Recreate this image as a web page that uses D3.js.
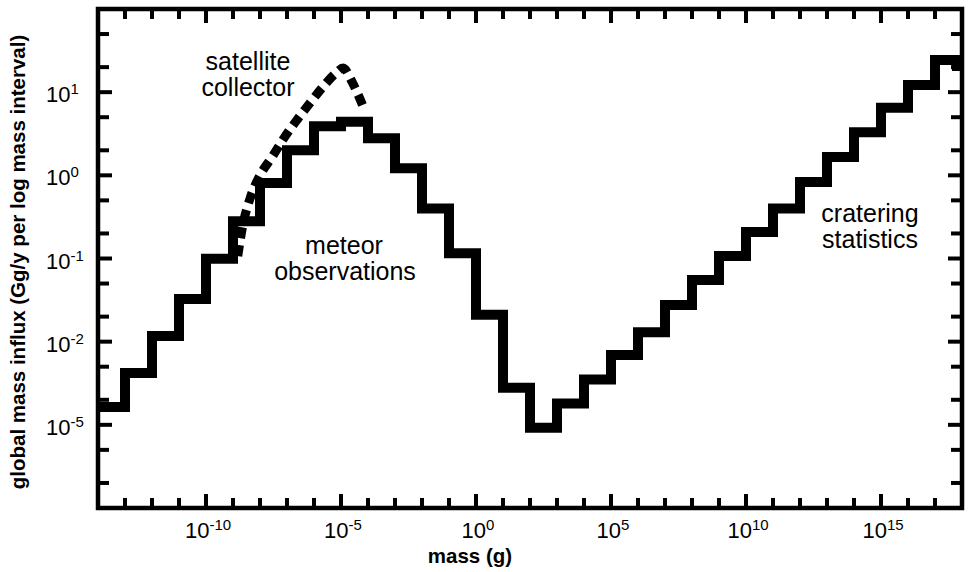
<!DOCTYPE html>
<html>
<head>
<meta charset="utf-8">
<script src="https://cdn.jsdelivr.net/npm/d3@7"></script>
<style>
  body { margin: 0; background: #fff; }
  svg text { font-family: "Liberation Sans", Arial, Helvetica, sans-serif; fill: #000; }
</style>
</head>
<body>
<svg id="chart" width="971" height="572"></svg>
<script>
// lower edge of each one-decade mass bin (log10 g)
var binExp = [-14, -13, -12, -11, -10, -9, -8, -7, -6, -5, -4, -3, -2, -1, 0, 1,
              2, 3, 4, 5, 6, 7, 8, 9, 10, 11, 12, 13, 14, 15, 16, 17];
// influx per bin (Gg/y per log mass interval)
var influx = [0.00164, 0.0042, 0.0117, 0.0326, 0.099, 0.28, 0.81, 2.0, 3.9, 4.4, 2.8, 1.22, 0.40, 0.116, 0.021, 0.0028,
              0.00092, 0.0018, 0.0035, 0.0069, 0.013, 0.0276, 0.055, 0.107, 0.208, 0.40, 0.83, 1.66, 3.3, 6.5, 12.2, 24.4];
// last bin stops just short of the frame and drops a little
var lastEdge = 6.5e17;
var tailValue = 18;

// satellite collector curve
var satMass = [1.5e-9, 2.3e-9, 4.3e-9, 1.0e-8, 2.8e-8, 7.7e-8, 2.3e-7, 7.1e-7, 2.1e-6, 6.5e-6, 1.2e-5, 2.6e-5, 6.5e-5];
var satFlux = [0.107, 0.25, 0.53, 1.0, 1.66, 2.8, 4.6, 7.4, 11.5, 17, 19.5, 13.2, 6.8];

var xTickExp = d3.range(-13, 18);
var xLabelExp = [-10, -5, 0, 5, 10, 15];
var yTickVals = [2e-4, 5e-4, 1e-3, 2e-3, 5e-3, 1e-2, 2e-2, 5e-2, 0.1, 0.2, 0.5, 1, 2, 5, 10, 20, 50];
var yLabelVals = [10, 1, 0.1, 0.01, 0.001];
var yLabelExp = ["1", "0", "-1", "-2", "-5"];

var svg = d3.select("#chart");
var pLeft = 98, pRight = 962, pTop = 9, pBottom = 508;

var x = d3.scaleLog().domain([1e-14, 1e18]).range([pLeft, pRight]);
var y = d3.scaleLog().domain([1e-4, 1e2]).range([pBottom, pTop]);

// step line
var pts = binExp.map(function(e, i) { return [Math.pow(10, e), influx[i]]; });
pts.push([lastEdge, influx[influx.length - 1]]);
pts.push([lastEdge, tailValue]);

svg.append("path")
  .datum(pts)
  .attr("d", d3.line()
    .x(function(d) { return x(d[0]); })
    .y(function(d) { return y(d[1]); })
    .curve(d3.curveStepAfter))
  .attr("fill", "none")
  .attr("stroke", "#000")
  .attr("stroke-width", 10)
  .attr("stroke-linejoin", "miter");

// dashed satellite curve
var sat = satMass.map(function(m, i) { return [m, satFlux[i]]; });
svg.append("path")
  .datum(sat)
  .attr("d", d3.line()
    .x(function(d) { return x(d[0]); })
    .y(function(d) { return y(d[1]); })
    .curve(d3.curveMonotoneX))
  .attr("fill", "none")
  .attr("stroke", "#000")
  .attr("stroke-width", 9)
  .attr("stroke-dasharray", "11,7");

// frame
svg.append("rect")
  .attr("x", pLeft).attr("y", pTop)
  .attr("width", pRight - pLeft).attr("height", pBottom - pTop)
  .attr("fill", "none")
  .attr("stroke", "#000")
  .attr("stroke-width", 4.5);

// ticks on all four sides, pointing inwards
var g = svg.append("g").attr("stroke", "#000").attr("stroke-width", 4);
xTickExp.forEach(function(e) {
  var len = (e % 5 === 0) ? 14 : 10;
  var px = x(Math.pow(10, e));
  g.append("line").attr("x1", px).attr("x2", px).attr("y1", pBottom).attr("y2", pBottom - len);
  g.append("line").attr("x1", px).attr("x2", px).attr("y1", pTop).attr("y2", pTop + len);
});
yTickVals.forEach(function(v) {
  var major = yLabelVals.indexOf(v) >= 0;
  var len = major ? 14 : 11;
  var py = y(v);
  g.append("line").attr("y1", py).attr("y2", py).attr("x1", pLeft).attr("x2", pLeft + len);
  g.append("line").attr("y1", py).attr("y2", py).attr("x1", pRight).attr("x2", pRight - len);
});

// x tick labels
xLabelExp.forEach(function(e) {
  var t = svg.append("text")
    .attr("x", x(Math.pow(10, e)) + 2)
    .attr("y", 538)
    .attr("text-anchor", "middle")
    .attr("font-size", 22);
  t.append("tspan").text("10");
  t.append("tspan").attr("font-size", 15).attr("dy", -8).text(String(e));
});

// y tick labels
yLabelVals.forEach(function(v, i) {
  var t = svg.append("text")
    .attr("x", 46)
    .attr("y", y(v) + 10)
    .attr("font-size", 22);
  t.append("tspan").text("10");
  t.append("tspan").attr("font-size", 15).attr("dy", -8).text(yLabelExp[i]);
});

// axis titles
svg.append("text")
  .attr("x", 470).attr("y", 563)
  .attr("text-anchor", "middle")
  .attr("font-size", 20.5)
  .attr("font-weight", "bold")
  .text("mass (g)");

svg.append("text")
  .attr("transform", "translate(25,262) rotate(-90)")
  .attr("text-anchor", "middle")
  .attr("font-size", 20.5)
  .attr("font-weight", "bold")
  .text("global mass influx (Gg/y per log mass interval)");

// annotations
var notes = [
  { t: "satellite", x: 248, y: 70 },
  { t: "collector", x: 248, y: 96 },
  { t: "meteor", x: 344, y: 254 },
  { t: "observations", x: 345, y: 280 },
  { t: "cratering", x: 870, y: 222 },
  { t: "statistics", x: 870, y: 248 }
];
svg.selectAll(".note")
  .data(notes)
  .enter().append("text")
  .attr("class", "note")
  .attr("x", function(d) { return d.x; })
  .attr("y", function(d) { return d.y; })
  .attr("text-anchor", "middle")
  .attr("font-size", 25)
  .text(function(d) { return d.t; });
</script>
</body>
</html>
